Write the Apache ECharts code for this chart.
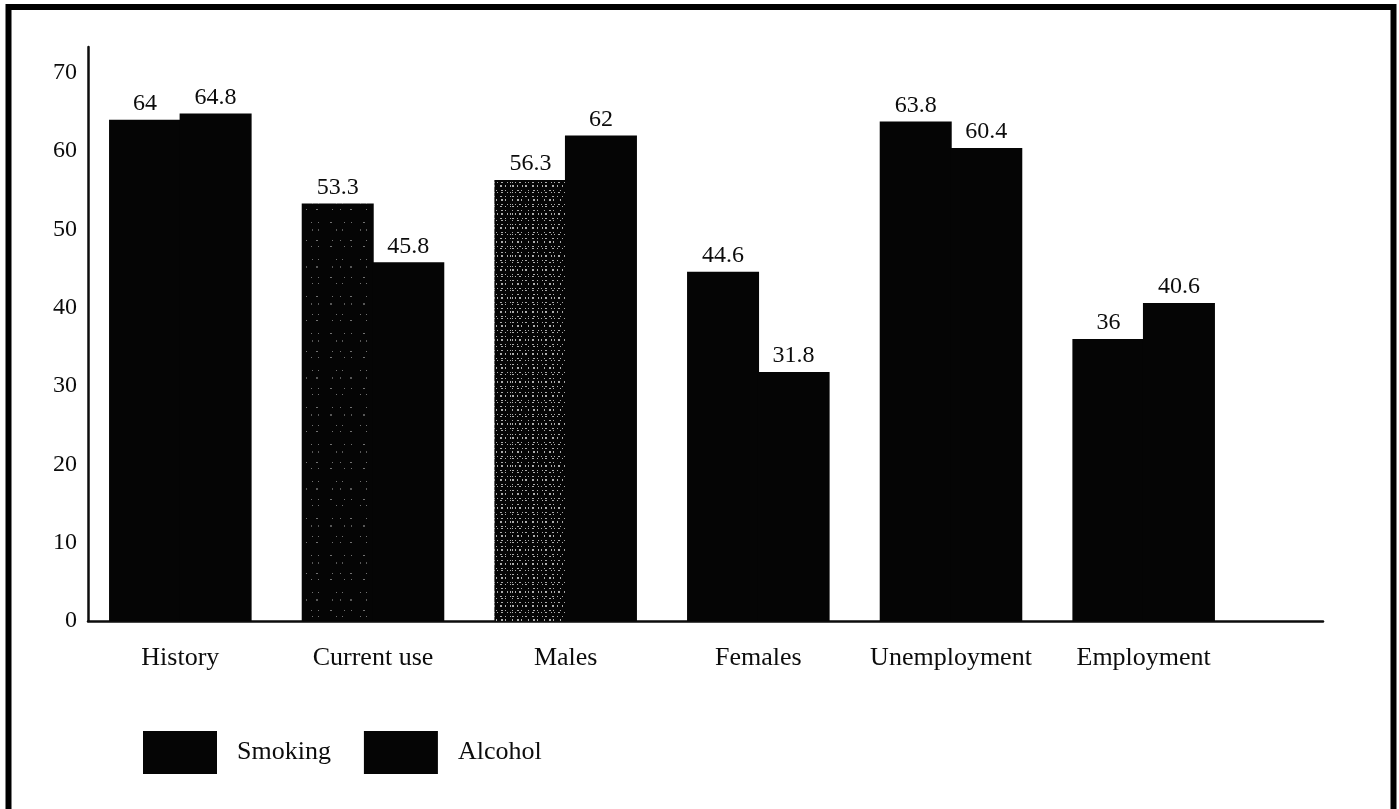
<!DOCTYPE html>
<html>
<head>
<meta charset="utf-8">
<title>Smoking and alcohol use</title>
<script src="https://cdn.jsdelivr.net/npm/echarts@6/dist/echarts.min.js"></script>
<style>
  html, body { margin: 0; padding: 0; background: #ffffff; }
  #chart { width: 1399px; height: 809px; }
</style>
</head>
<body>
<div id="chart"></div>
<script>
// Categories and percentages for each group
const categories = ['History', 'Current use', 'Males', 'Females', 'Unemployment', 'Employment'];
const smoking = [64, 53.3, 56.3, 44.6, 63.8, 36];
const alcohol = [64.8, 45.8, 62, 31.8, 60.4, 40.6];
const seriesNames = ['Smoking', 'Alcohol'];

const FONT = '"Liberation Serif", "DejaVu Serif", serif';
const INK = '#0c0c0c';
const Y_MAX = 73.3;

// Grainy halftone texture used on some of the smoking bars
const lightGrain = {
  symbol: 'rect',
  symbolSize: 0.8,
  color: 'rgba(255,255,255,0.55)',
  backgroundColor: null,
  dashArrayX: [[1, 9, 2, 14, 1, 7], [2, 12, 1, 6, 1, 11], [1, 5, 1, 17]],
  dashArrayY: [1, 6, 2, 9, 1, 5, 1, 12]
};
const heavyGrain = {
  symbol: 'rect',
  symbolSize: 0.9,
  color: 'rgba(255,255,255,0.75)',
  backgroundColor: null,
  dashArrayX: [[2, 3, 1, 4, 1, 2, 2, 5], [1, 4, 2, 2, 1, 6], [1, 2, 1, 3, 2, 4]],
  dashArrayY: [1, 2, 2, 3, 1, 1, 1, 3]
};
const grainFor = { 'Current use': lightGrain, 'Males': heavyGrain };

const smokingData = smoking.map((v, i) => {
  const d = grainFor[categories[i]];
  return d ? { value: v, itemStyle: { decal: d } } : v;
});

const chart = echarts.init(document.getElementById('chart'), null, { renderer: 'canvas' });

const labelStyle = {
  show: true,
  position: 'top',
  distance: 4,
  color: INK,
  fontFamily: FONT,
  fontSize: 24
};

chart.setOption({
  backgroundColor: '#ffffff',
  animation: false,
  grid: [
    { left: 84, right: 159, top: 47, bottom: 188 },
    { left: 88, right: 76, top: 47, bottom: 188 }
  ],
  xAxis: [
    {
      type: 'category',
      gridIndex: 0,
      data: categories,
      axisLine: { show: false },
      axisTick: { show: false },
      axisLabel: { color: INK, fontFamily: FONT, fontSize: 26, margin: 24, interval: 0 }
    },
    {
      type: 'value',
      gridIndex: 1,
      min: 0,
      max: 1,
      axisLine: { show: true, lineStyle: { color: INK, width: 2.5 } },
      axisTick: { show: false },
      axisLabel: { show: false },
      splitLine: { show: false }
    }
  ],
  yAxis: [
    {
      type: 'value',
      gridIndex: 0,
      min: 0,
      max: Y_MAX,
      show: false,
      splitLine: { show: false }
    },
    {
      type: 'value',
      gridIndex: 1,
      min: 0,
      max: Y_MAX,
      interval: 10,
      axisLine: { show: true, lineStyle: { color: INK, width: 2.5 } },
      axisTick: { show: false },
      splitLine: { show: false },
      axisLabel: {
        color: INK,
        fontFamily: FONT,
        fontSize: 24,
        margin: 11,
        padding: [0, 0, 16, 0],
        formatter: v => (v % 10 === 0 ? String(v) : '')
      }
    }
  ],
  legend: {
    data: seriesNames,
    left: 138,
    top: 726,
    icon: 'rect',
    itemWidth: 74,
    itemHeight: 43,
    itemGap: 33,
    selectedMode: false,
    textStyle: { color: INK, fontFamily: FONT, fontSize: 26, padding: [0, 0, 0, 15] }
  },
  series: [
    {
      name: seriesNames[0],
      type: 'bar',
      xAxisIndex: 0,
      yAxisIndex: 0,
      data: smokingData,
      barWidth: 72,
      barGap: '-2%',
      itemStyle: { color: '#050505' },
      label: labelStyle
    },
    {
      name: seriesNames[1],
      type: 'bar',
      xAxisIndex: 0,
      yAxisIndex: 0,
      data: alcohol,
      barWidth: 72,
      barGap: '-2%',
      itemStyle: { color: '#050505' },
      label: labelStyle
    }
  ],
  graphic: [
    {
      type: 'rect',
      silent: true,
      shape: { x: 8.5, y: 7, width: 1385, height: 840 },
      style: { fill: null, stroke: '#000000', lineWidth: 6 }
    }
  ]
});
</script>
</body>
</html>
